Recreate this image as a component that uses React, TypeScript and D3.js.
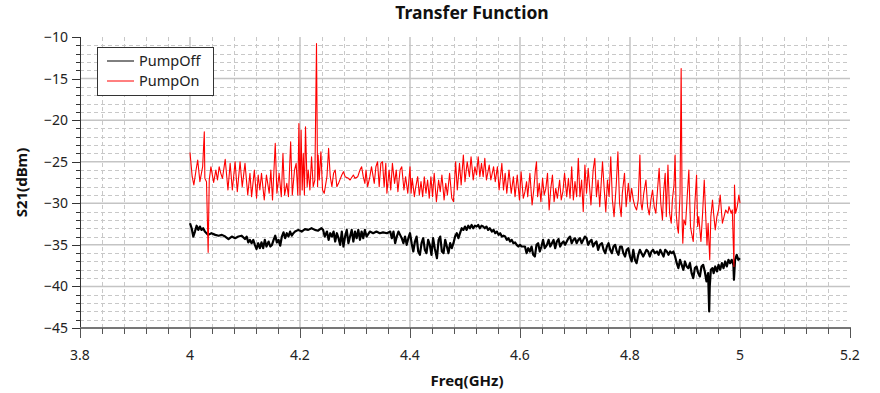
import React from "react";
import * as d3 from "d3";

// Swept S21 response, pump off (black) and pump on (red); [GHz, dBm]
const pumpOff: [number, number][] = [
  [4.000,-32.4],[4.003,-33.0],[4.006,-34.0],[4.009,-33.4],[4.012,-32.7],[4.015,-33.2],[4.018,-32.8],[4.021,-33.2],[4.024,-33.0],[4.027,-33.4],
  [4.030,-33.6],[4.033,-33.8],[4.039,-33.6],[4.046,-33.8],[4.052,-33.9],[4.058,-33.8],[4.064,-34.0],[4.070,-34.3],[4.076,-34.0],[4.082,-34.2],
  [4.088,-34.0],[4.094,-33.9],[4.100,-34.3],[4.103,-34.0],[4.106,-34.7],[4.109,-34.4],[4.112,-34.8],[4.115,-34.4],[4.118,-35.0],[4.121,-35.5],
  [4.124,-34.8],[4.127,-35.4],[4.130,-34.7],[4.133,-35.4],[4.136,-34.4],[4.139,-35.2],[4.143,-34.6],[4.146,-35.2],[4.149,-35.0],[4.152,-34.4],
  [4.155,-33.9],[4.158,-34.7],[4.161,-34.4],[4.164,-35.1],[4.167,-34.0],[4.170,-33.5],[4.173,-34.2],[4.176,-33.6],[4.179,-34.0],[4.182,-33.4],
  [4.185,-33.9],[4.188,-33.6],[4.191,-33.4],[4.197,-33.2],[4.203,-33.4],[4.209,-33.1],[4.215,-33.2],[4.221,-33.0],[4.227,-33.2],[4.233,-33.3],
  [4.239,-33.0],[4.242,-33.2],[4.245,-34.0],[4.249,-33.4],[4.252,-34.4],[4.255,-33.6],[4.258,-34.0],[4.261,-33.4],[4.264,-34.6],[4.267,-33.6],
  [4.270,-34.2],[4.273,-35.0],[4.276,-33.4],[4.279,-35.2],[4.282,-34.0],[4.285,-33.2],[4.288,-34.8],[4.291,-34.0],[4.294,-33.2],[4.297,-34.6],
  [4.300,-33.4],[4.303,-34.2],[4.306,-33.2],[4.309,-34.4],[4.312,-33.4],[4.315,-34.2],[4.318,-33.2],[4.321,-34.0],[4.327,-33.4],[4.333,-33.6],
  [4.339,-33.4],[4.345,-33.6],[4.351,-33.5],[4.358,-33.6],[4.364,-33.4],[4.367,-34.2],[4.370,-33.4],[4.373,-34.8],[4.376,-34.0],[4.379,-33.4],
  [4.382,-33.8],[4.385,-34.2],[4.388,-34.8],[4.391,-34.0],[4.394,-35.0],[4.397,-34.2],[4.400,-33.6],[4.403,-34.8],[4.406,-35.8],[4.409,-34.6],
  [4.412,-34.0],[4.415,-35.8],[4.418,-36.2],[4.421,-34.8],[4.424,-34.2],[4.427,-35.6],[4.430,-36.0],[4.433,-34.4],[4.436,-35.0],[4.439,-36.2],
  [4.442,-34.2],[4.445,-35.4],[4.449,-36.6],[4.452,-34.4],[4.455,-34.0],[4.458,-35.8],[4.461,-36.0],[4.464,-34.4],[4.467,-35.2],[4.470,-36.0],
  [4.473,-34.8],[4.476,-35.4],[4.479,-34.8],[4.482,-34.0],[4.485,-33.6],[4.488,-34.2],[4.491,-33.6],[4.494,-33.0],[4.497,-33.2],[4.500,-32.8],
  [4.503,-33.2],[4.506,-32.7],[4.509,-33.0],[4.512,-32.6],[4.515,-33.0],[4.518,-32.7],[4.521,-32.8],[4.524,-32.6],[4.527,-33.0],[4.530,-32.7],
  [4.533,-32.8],[4.536,-33.0],[4.539,-32.8],[4.542,-33.2],[4.545,-33.0],[4.549,-33.4],[4.552,-33.2],[4.555,-33.6],[4.558,-33.4],[4.561,-33.8],
  [4.564,-33.6],[4.567,-34.0],[4.570,-33.9],[4.573,-34.0],[4.576,-34.4],[4.579,-34.2],[4.582,-34.6],[4.585,-34.4],[4.588,-34.8],[4.591,-34.7],
  [4.594,-35.0],[4.597,-35.2],[4.600,-35.0],[4.603,-35.2],[4.606,-35.2],[4.609,-35.2],[4.612,-36.0],[4.615,-35.4],[4.618,-35.8],[4.621,-35.2],
  [4.624,-36.2],[4.627,-36.4],[4.630,-35.0],[4.633,-34.8],[4.636,-35.8],[4.639,-35.2],[4.642,-34.4],[4.645,-35.4],[4.649,-35.0],[4.652,-34.4],
  [4.655,-35.2],[4.658,-34.8],[4.661,-34.4],[4.664,-35.4],[4.667,-34.6],[4.670,-34.3],[4.673,-35.2],[4.676,-34.8],[4.679,-34.6],[4.682,-35.0],
  [4.685,-34.6],[4.688,-34.2],[4.691,-34.0],[4.694,-34.8],[4.697,-34.4],[4.700,-34.2],[4.703,-34.8],[4.706,-34.4],[4.709,-34.2],[4.712,-34.8],
  [4.715,-34.4],[4.718,-34.0],[4.721,-34.2],[4.724,-35.0],[4.727,-34.6],[4.730,-34.4],[4.733,-35.2],[4.736,-34.8],[4.739,-34.6],[4.742,-35.6],
  [4.745,-35.0],[4.749,-34.8],[4.752,-35.6],[4.755,-36.0],[4.758,-35.2],[4.761,-34.8],[4.764,-35.6],[4.767,-36.0],[4.770,-35.2],[4.773,-35.0],
  [4.776,-35.8],[4.779,-36.2],[4.782,-35.2],[4.785,-35.2],[4.788,-36.0],[4.791,-36.4],[4.794,-35.6],[4.797,-35.4],[4.800,-36.4],[4.803,-37.0],
  [4.806,-35.6],[4.809,-36.8],[4.812,-37.2],[4.815,-36.2],[4.818,-35.6],[4.821,-36.0],[4.824,-36.4],[4.827,-36.0],[4.830,-35.6],[4.833,-35.8],
  [4.836,-36.4],[4.839,-35.8],[4.842,-35.6],[4.845,-36.0],[4.849,-35.8],[4.852,-36.2],[4.855,-35.6],[4.858,-36.0],[4.861,-36.4],[4.864,-35.6],
  [4.867,-35.8],[4.870,-36.2],[4.873,-35.8],[4.876,-36.0],[4.879,-35.8],[4.882,-36.4],[4.885,-37.2],[4.888,-37.8],[4.891,-36.8],[4.894,-37.4],
  [4.897,-38.0],[4.900,-37.0],[4.903,-37.6],[4.906,-37.8],[4.909,-37.2],[4.912,-38.4],[4.915,-39.0],[4.918,-37.8],[4.921,-37.6],[4.924,-38.4],
  [4.927,-38.8],[4.930,-37.6],[4.933,-37.4],[4.936,-38.2],[4.939,-39.4],[4.942,-38.4],[4.944,-43.0],[4.945,-40.0],[4.947,-38.0],[4.950,-37.8],
  [4.952,-38.4],[4.955,-37.6],[4.958,-38.2],[4.961,-37.4],[4.964,-38.0],[4.967,-37.2],[4.970,-37.8],[4.973,-37.0],[4.976,-37.6],[4.979,-36.8],
  [4.982,-37.2],[4.985,-36.8],[4.988,-37.4],[4.989,-39.2],[4.991,-36.8],[4.994,-36.2],[4.997,-36.8],[5.000,-36.6],
];

const pumpOn: [number, number][] = [
  [4.000,-23.9],[4.004,-26.8],[4.007,-27.8],[4.011,-26.0],[4.014,-24.8],[4.018,-27.4],[4.023,-25.6],[4.026,-21.4],[4.027,-27.0],[4.030,-27.4],
  [4.033,-35.9],[4.035,-27.2],[4.038,-25.6],[4.043,-27.5],[4.047,-26.0],[4.050,-27.2],[4.053,-25.6],[4.056,-26.4],[4.059,-27.0],[4.064,-24.7],
  [4.069,-28.4],[4.073,-25.2],[4.077,-28.4],[4.082,-25.0],[4.086,-28.6],[4.091,-25.0],[4.095,-28.0],[4.100,-25.2],[4.105,-29.0],[4.109,-26.4],
  [4.112,-29.2],[4.117,-26.0],[4.121,-29.4],[4.124,-26.6],[4.127,-28.4],[4.130,-26.4],[4.135,-29.6],[4.139,-26.6],[4.144,-28.8],[4.147,-26.0],
  [4.150,-29.6],[4.155,-22.8],[4.158,-28.8],[4.162,-26.4],[4.166,-29.2],[4.169,-24.0],[4.172,-29.0],[4.176,-27.6],[4.179,-29.2],[4.183,-22.6],
  [4.186,-29.0],[4.190,-26.0],[4.193,-25.2],[4.196,-29.0],[4.198,-20.4],[4.200,-29.0],[4.202,-21.2],[4.204,-28.4],[4.206,-24.0],[4.208,-29.0],
  [4.210,-20.8],[4.213,-28.0],[4.215,-26.0],[4.218,-28.4],[4.221,-24.4],[4.224,-28.0],[4.227,-27.2],[4.230,-10.8],[4.232,-28.0],[4.233,-24.2],
  [4.235,-27.2],[4.238,-23.8],[4.241,-28.4],[4.244,-28.8],[4.249,-26.8],[4.252,-23.4],[4.255,-26.8],[4.258,-28.0],[4.261,-26.4],[4.264,-26.0],
  [4.267,-28.0],[4.270,-27.6],[4.276,-26.6],[4.279,-26.2],[4.282,-26.8],[4.288,-27.0],[4.291,-27.2],[4.297,-26.6],[4.300,-27.0],[4.305,-26.8],
  [4.309,-26.0],[4.312,-25.6],[4.315,-26.8],[4.318,-27.6],[4.320,-26.0],[4.323,-28.0],[4.327,-26.8],[4.330,-25.6],[4.335,-27.6],[4.338,-25.6],
  [4.341,-25.0],[4.344,-28.0],[4.347,-25.2],[4.350,-25.0],[4.353,-28.0],[4.356,-25.2],[4.358,-28.8],[4.362,-26.0],[4.365,-28.4],[4.368,-25.2],
  [4.372,-27.6],[4.375,-26.0],[4.378,-28.6],[4.382,-26.0],[4.385,-25.6],[4.389,-28.4],[4.392,-26.8],[4.396,-28.8],[4.400,-25.6],[4.402,-28.8],
  [4.404,-27.0],[4.408,-29.2],[4.410,-28.2],[4.414,-26.8],[4.417,-29.0],[4.420,-27.4],[4.423,-29.2],[4.426,-26.8],[4.429,-28.8],[4.432,-27.2],
  [4.435,-29.4],[4.438,-26.8],[4.441,-29.2],[4.444,-26.4],[4.448,-29.8],[4.452,-27.2],[4.455,-28.6],[4.458,-26.6],[4.462,-29.6],[4.465,-27.6],
  [4.468,-29.0],[4.472,-26.4],[4.476,-29.4],[4.479,-29.8],[4.483,-25.0],[4.486,-28.4],[4.490,-25.2],[4.493,-27.8],[4.497,-24.2],[4.500,-27.4],
  [4.504,-25.0],[4.508,-26.8],[4.511,-24.4],[4.515,-27.2],[4.518,-25.6],[4.521,-26.6],[4.524,-24.4],[4.527,-26.8],[4.530,-25.2],[4.533,-26.8],
  [4.536,-24.6],[4.539,-27.2],[4.544,-25.4],[4.547,-27.2],[4.552,-25.6],[4.555,-27.4],[4.559,-25.6],[4.562,-28.4],[4.567,-25.2],[4.570,-28.4],
  [4.573,-26.4],[4.576,-28.8],[4.580,-26.0],[4.584,-28.8],[4.588,-26.8],[4.591,-29.2],[4.595,-26.6],[4.599,-29.6],[4.602,-26.2],[4.606,-29.4],
  [4.609,-28.6],[4.612,-27.4],[4.614,-29.2],[4.618,-26.4],[4.622,-30.2],[4.625,-28.4],[4.628,-26.0],[4.630,-25.0],[4.632,-29.2],[4.635,-27.6],
  [4.638,-29.8],[4.641,-27.0],[4.644,-29.0],[4.647,-28.2],[4.650,-26.4],[4.653,-30.8],[4.656,-28.2],[4.659,-26.6],[4.662,-29.8],[4.665,-28.2],
  [4.668,-29.4],[4.672,-27.2],[4.675,-29.6],[4.678,-28.6],[4.681,-26.4],[4.685,-29.2],[4.688,-27.0],[4.691,-29.4],[4.694,-25.6],[4.697,-29.6],
  [4.700,-27.4],[4.703,-29.2],[4.706,-24.6],[4.709,-29.2],[4.712,-27.2],[4.715,-31.0],[4.718,-25.4],[4.721,-28.8],[4.724,-25.8],[4.729,-30.2],
  [4.733,-26.0],[4.736,-24.6],[4.739,-29.2],[4.742,-27.2],[4.745,-30.4],[4.750,-25.0],[4.753,-28.2],[4.756,-31.0],[4.759,-27.2],[4.762,-29.2],
  [4.765,-24.4],[4.768,-29.6],[4.771,-31.6],[4.775,-27.8],[4.778,-23.8],[4.781,-30.0],[4.784,-31.6],[4.786,-28.8],[4.790,-26.4],[4.793,-30.4],
  [4.797,-27.6],[4.800,-29.8],[4.803,-28.2],[4.806,-29.6],[4.809,-30.4],[4.812,-30.8],[4.815,-29.6],[4.818,-24.2],[4.820,-30.0],[4.822,-30.8],
  [4.825,-28.8],[4.829,-27.2],[4.832,-30.4],[4.835,-31.4],[4.838,-29.6],[4.841,-28.4],[4.844,-30.4],[4.847,-31.2],[4.850,-28.4],[4.853,-25.8],
  [4.856,-30.0],[4.859,-32.0],[4.861,-28.8],[4.864,-26.4],[4.866,-31.6],[4.869,-25.4],[4.872,-31.2],[4.875,-32.4],[4.877,-29.6],[4.880,-27.8],
  [4.882,-24.2],[4.884,-31.2],[4.886,-32.8],[4.888,-33.6],[4.891,-28.8],[4.893,-13.8],[4.895,-32.8],[4.896,-34.8],[4.898,-32.0],[4.901,-32.6],
  [4.904,-29.2],[4.907,-26.0],[4.910,-32.8],[4.912,-33.6],[4.915,-34.6],[4.918,-30.0],[4.921,-26.6],[4.923,-32.8],[4.925,-31.6],[4.929,-34.6],
  [4.932,-31.2],[4.935,-27.2],[4.938,-32.0],[4.940,-35.0],[4.942,-32.4],[4.945,-36.8],[4.947,-31.6],[4.950,-29.6],[4.952,-31.2],[4.955,-33.2],
  [4.958,-31.6],[4.961,-30.8],[4.964,-29.0],[4.968,-32.4],[4.971,-31.6],[4.974,-30.8],[4.978,-31.2],[4.980,-30.4],[4.984,-31.2],[4.986,-30.8],
  [4.989,-37.6],[4.990,-27.8],[4.992,-31.2],[4.995,-30.4],[4.998,-29.0],[5.000,-30.0],
];

const xTicks = [3.8, 4.0, 4.2, 4.4, 4.6, 4.8, 5.0, 5.2];
const yTicks = [-45, -40, -35, -30, -25, -20, -15, -10];
const seriesNames = ["PumpOff", "PumpOn"];
const seriesColors = ["#000000", "#ff0000"];

const title = "Transfer Function";
const xTitle = "Freq(GHz)";
const yTitle = "S21(dBm)";

const W = 880;
const H = 393;
const FONT = "'Noto Sans', 'DejaVu Sans', sans-serif";

export default function App() {
  const x = d3.scaleLinear().domain([3.8, 5.2]).range([80, 850]);
  const y = d3.scaleLinear().domain([-45, -10]).range([328, 37]);
  const [x0, x1] = x.range();
  const [yb, yt] = y.range();

  const xMinor = d3.range(0, 36).map((i) => 3.8 + i * 0.04).filter((v) => Math.abs(v * 5 - Math.round(v * 5)) > 1e-6);
  const yMinor = d3.range(-45, -9).filter((v) => v % 5 !== 0);

  const line = d3
    .line<[number, number]>()
    .x((d) => x(d[0]))
    .y((d) => y(d[1]));

  const fmtX = (v: number) => d3.format("~g")(+v.toFixed(1));
  const fmtY = (v: number) => String(v).replace("-", "\u2212");

  const gridColor = "#c4c4c4";

  return (
    <svg width={W} height={H} style={{ position: "absolute", left: 0, top: 0, background: "#fff" }} fontFamily={FONT}>
      <rect width={W} height={H} fill="#fff" />

      {/* minor grid */}
      <g stroke="#c8c8c8" strokeWidth={1} strokeDasharray="4,3">
        {xMinor.map((v) => (
          <line key={"xm" + v} x1={Math.round(x(v)) + 0.5} x2={Math.round(x(v)) + 0.5} y1={yt} y2={yb} />
        ))}
        {yMinor.map((v) => (
          <line key={"ym" + v} x1={x0} x2={x1} y1={Math.round(y(v)) + 0.5} y2={Math.round(y(v)) + 0.5} />
        ))}
      </g>

      {/* major grid */}
      <g stroke={gridColor} strokeWidth={1.5}>
        {xTicks.slice(1, -1).map((v) => (
          <line key={"xg" + v} x1={x(v)} x2={x(v)} y1={yt} y2={yb} />
        ))}
        {yTicks.slice(1, -1).map((v) => (
          <line key={"yg" + v} x1={x0} x2={x1} y1={y(v)} y2={y(v)} />
        ))}
      </g>

      {/* traces */}
      <path d={line(pumpOff) || ""} fill="none" stroke={seriesColors[0]} strokeWidth={2.2} strokeLinejoin="round" />
      <path d={line(pumpOn) || ""} fill="none" stroke={seriesColors[1]} strokeWidth={1.1} strokeLinejoin="round" />

      {/* left axis */}
      <g stroke="#333" strokeWidth={1}>
        <line x1={x0 + 0.5} x2={x0 + 0.5} y1={yt} y2={yb} />
        {yTicks.map((v) => (
          <line key={"yt" + v} x1={x0 - 8} x2={x0} y1={Math.round(y(v)) + 0.5} y2={Math.round(y(v)) + 0.5} />
        ))}
        {yMinor.map((v) => (
          <line key={"ytm" + v} x1={x0 - 4} x2={x0} y1={Math.round(y(v)) + 0.5} y2={Math.round(y(v)) + 0.5} />
        ))}
      </g>
      <g fontSize={14} fill="#222" textAnchor="end">
        {yTicks.map((v) => (
          <text key={"yl" + v} x={x0 - 12} y={y(v) + 5}>
            {fmtY(v)}
          </text>
        ))}
      </g>

      {/* bottom axis */}
      <g stroke="#555" strokeWidth={1}>
        <line x1={x0} x2={x1 + 1} y1={yb} y2={yb} strokeWidth={2.2} stroke="#777" />
        {xTicks.map((v) => (
          <line key={"xt" + v} x1={Math.round(x(v)) + 0.5} x2={Math.round(x(v)) + 0.5} y1={yb} y2={yb + 10} />
        ))}
        {xMinor.map((v) => (
          <line key={"xtm" + v} x1={Math.round(x(v)) + 0.5} x2={Math.round(x(v)) + 0.5} y1={yb} y2={yb + 6} />
        ))}
      </g>
      <g fontSize={14} fill="#222" textAnchor="middle">
        {xTicks.map((v) => (
          <text key={"xl" + v} x={x(v)} y={yb + 32}>
            {fmtX(v)}
          </text>
        ))}
      </g>

      {/* titles */}
      <text x={472} y={19} textAnchor="middle" fontSize={17.5} fontWeight="bold" fill="#111">
        {title}
      </text>
      <text x={467} y={386} textAnchor="middle" fontSize={15} fontWeight="bold" fill="#111">
        {xTitle}
      </text>
      <text
        transform={`translate(27, ${(yt + yb) / 2}) rotate(-90)`}
        textAnchor="middle"
        fontSize={15}
        fontWeight="bold"
        fill="#111"
      >
        {yTitle}
      </text>

      {/* legend */}
      <g>
        <rect x={97.5} y={47.5} width={116} height={48} fill="#fff" stroke="#333" strokeWidth={1} />
        {seriesNames.map((name, i) => (
          <g key={name} transform={`translate(0, ${61 + i * 20})`}>
            <line x1={107} x2={134} y1={0} y2={0} stroke={seriesColors[i]} strokeWidth={1} />
            <text x={139} y={5} fontSize={14.5} fill="#222">
              {name}
            </text>
          </g>
        ))}
      </g>
    </svg>
  );
}
